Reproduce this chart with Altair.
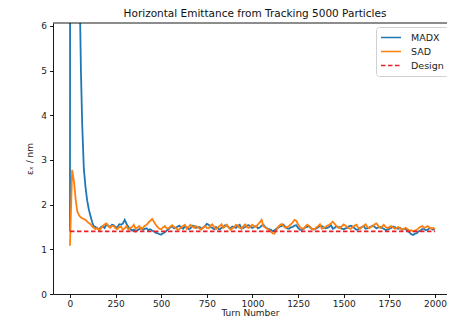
import altair as alt
import pandas as pd

# ---------------- data ----------------
madx_early_turns = [0, 5, 20, 35, 45, 55, 60, 67, 76, 85, 94, 104, 113, 122, 130]
madx_early_vals = [1.40, 40.0, 25.0, 14.0, 9.5, 6.3, 5.0, 3.8, 2.8, 2.4, 2.1, 1.88, 1.74, 1.60, 1.52]
madx_late_vals = [
    1.50, 1.47, 1.45, 1.50, 1.52, 1.48, 1.56, 1.53, 1.50, 1.55,
    1.54, 1.49, 1.50, 1.56, 1.55, 1.58, 1.66, 1.57, 1.50, 1.46,
    1.42, 1.44, 1.40, 1.43, 1.45, 1.48, 1.44, 1.46, 1.47, 1.43,
    1.45, 1.42, 1.40, 1.37, 1.36, 1.34, 1.33, 1.36, 1.38, 1.42,
    1.45, 1.49, 1.52, 1.47, 1.48, 1.51, 1.53, 1.49, 1.46, 1.51,
    1.50, 1.45, 1.47, 1.53, 1.52, 1.48, 1.49, 1.50, 1.46, 1.49,
    1.52, 1.57, 1.55, 1.50, 1.48, 1.45, 1.50, 1.47, 1.44, 1.48,
    1.50, 1.54, 1.53, 1.49, 1.47, 1.51, 1.50, 1.48, 1.52, 1.55,
    1.46, 1.48, 1.50, 1.53, 1.54, 1.50, 1.48, 1.51, 1.52, 1.47,
    1.49, 1.53, 1.55, 1.50, 1.47, 1.45, 1.44, 1.41, 1.42, 1.46,
    1.48, 1.51, 1.52, 1.55, 1.50, 1.47, 1.46, 1.49, 1.50, 1.53,
    1.54, 1.48, 1.44, 1.43, 1.46, 1.49, 1.50, 1.52, 1.47, 1.45,
    1.45, 1.47, 1.49, 1.53, 1.52, 1.49, 1.47, 1.48, 1.50, 1.54,
    1.46, 1.48, 1.52, 1.49, 1.50, 1.46, 1.45, 1.47, 1.48, 1.52,
    1.53, 1.50, 1.47, 1.44, 1.45, 1.48, 1.50, 1.52, 1.46, 1.47,
    1.49, 1.51, 1.53, 1.50, 1.47, 1.49, 1.50, 1.48, 1.46, 1.43,
    1.44, 1.46, 1.48, 1.51, 1.50, 1.47, 1.46, 1.48, 1.44, 1.46,
    1.45, 1.41, 1.38, 1.34, 1.32, 1.35, 1.36, 1.40, 1.42, 1.45,
    1.46, 1.43, 1.44, 1.47, 1.47, 1.44, 1.45,
]

sad_early_turns = [0, 12, 22, 31, 40, 50, 58, 70, 85, 100, 113, 125]
sad_early_vals = [1.08, 2.78, 2.52, 2.12, 1.85, 1.76, 1.72, 1.69, 1.66, 1.60, 1.56, 1.50]
sad_late_vals = [
    1.45, 1.48, 1.42, 1.47, 1.52, 1.56, 1.58, 1.52, 1.48, 1.53,
    1.52, 1.47, 1.45, 1.50, 1.50, 1.44, 1.47, 1.52, 1.44, 1.48,
    1.50, 1.55, 1.46, 1.49, 1.52, 1.45, 1.48, 1.53, 1.55, 1.60,
    1.64, 1.68, 1.62, 1.55, 1.50, 1.46, 1.45, 1.49, 1.52, 1.47,
    1.47, 1.51, 1.54, 1.50, 1.48, 1.44, 1.45, 1.50, 1.52, 1.55,
    1.46, 1.50, 1.55, 1.51, 1.48, 1.52, 1.50, 1.46, 1.44, 1.49,
    1.52, 1.48, 1.47, 1.53, 1.56, 1.50, 1.45, 1.49, 1.52, 1.56,
    1.48, 1.51, 1.55, 1.49, 1.44, 1.47, 1.50, 1.55, 1.53, 1.48,
    1.46, 1.52, 1.56, 1.50, 1.48, 1.52, 1.55, 1.51, 1.50, 1.56,
    1.60, 1.66, 1.52, 1.49, 1.46, 1.43, 1.40, 1.36, 1.35, 1.42,
    1.50, 1.54, 1.57, 1.52, 1.48, 1.50, 1.52, 1.56, 1.60, 1.66,
    1.64, 1.56, 1.50, 1.47, 1.46, 1.51, 1.55, 1.52, 1.48, 1.45,
    1.45, 1.49, 1.52, 1.56, 1.46, 1.48, 1.50, 1.53, 1.55, 1.58,
    1.62, 1.57, 1.52, 1.49, 1.47, 1.52, 1.56, 1.53, 1.50, 1.47,
    1.46, 1.50, 1.53, 1.55, 1.48, 1.46, 1.50, 1.53, 1.56, 1.50,
    1.47, 1.50, 1.52, 1.56, 1.58, 1.52, 1.48, 1.51, 1.55, 1.50,
    1.47, 1.50, 1.52, 1.49, 1.46, 1.48, 1.50, 1.47, 1.44, 1.46,
    1.48, 1.45, 1.42, 1.43, 1.40, 1.42, 1.44, 1.47, 1.50, 1.52,
    1.48, 1.50, 1.52, 1.49, 1.46, 1.48, 1.45,
]
late_turns = list(range(140, 2001, 10))

design_turns = [0, 2000]
design_vals = [1.4, 1.4]

series_names = ["MADX", "SAD", "Design"]
series_colors = ["#1f77b4", "#ff7f0e", "#e8202a"]
series_dashes = [[1, 0], [1, 0], [4.5, 2.5]]

x_ticks = [0, 250, 500, 750, 1000, 1250, 1500, 1750, 2000]
y_ticks = [0, 1, 2, 3, 4, 5, 6]

madx_df = pd.DataFrame({"turn": madx_early_turns + late_turns,
                        "eps": madx_early_vals + madx_late_vals, "series": "MADX"})
sad_df = pd.DataFrame({"turn": sad_early_turns + late_turns,
                       "eps": sad_early_vals + sad_late_vals, "series": "SAD"})
design_df = pd.DataFrame({"turn": design_turns, "eps": design_vals, "series": "Design"})

W, H = 394, 271
FONT = "DejaVu Sans"

x_enc = alt.X("turn:Q", scale=alt.Scale(domain=[-93, 2066], nice=False, zero=False),
              axis=alt.Axis(values=x_ticks, format="d", title="Turn Number", grid=False,
                            titlePadding=0, labelPadding=1.5))
y_enc = alt.Y("eps:Q", scale=alt.Scale(domain=[0, 6.067], nice=False),
              axis=alt.Axis(values=y_ticks, title="εₓ / nm", grid=False,
                            titlePadding=6, labelPadding=3))
color_enc = alt.Color("series:N",
                      scale=alt.Scale(domain=series_names, range=series_colors),
                      legend=alt.Legend(title=None, orient="none", legendX=323, legendY=4,
                                        symbolType="stroke", symbolSize=400,
                                        symbolStrokeWidth=1.6, clipHeight=13,
                                        labelFontSize=9.5, labelFont=FONT, labelColor="#222",
                                        labelOffset=9, rowPadding=1, padding=4,
                                        fillColor="white", strokeColor="#d0d0d0",
                                        cornerRadius=3))
dash_enc = alt.StrokeDash("series:N",
                          scale=alt.Scale(domain=series_names, range=series_dashes),
                          legend=alt.Legend(title=None, orient="none", legendX=323, legendY=4))


def line_layer(df):
    return alt.Chart(df).mark_line(strokeWidth=1.8, clip=True).encode(
        x=x_enc, y=y_enc, color=color_enc, strokeDash=dash_enc
    )


top_spine = alt.Chart(pd.DataFrame({"a": [0]})).mark_rule(color="black", strokeWidth=0.9).encode(
    x=alt.value(0), x2=alt.value(W), y=alt.value(0)
)

chart = alt.layer(
    line_layer(madx_df), line_layer(sad_df), line_layer(design_df), top_spine
).properties(
    width=W, height=H,
    title=alt.TitleParams("Horizontal Emittance from Tracking 5000 Particles",
                          font=FONT, fontSize=10.5, fontWeight="normal", color="#111",
                          baseline="alphabetic", offset=0, dy=5.5, dx=5, anchor="middle"),
    autosize=alt.AutoSizeParams(type="none"),
    padding={"left": 45, "top": 15, "right": 0, "bottom": 24},
).configure_view(stroke=None).configure_axis(
    domainColor="black", domainWidth=0.9, tickColor="black", tickWidth=0.9, tickSize=3.5,
    labelFont=FONT, labelFontSize=9, labelColor="#222",
    titleFont=FONT, titleFontSize=9, titleFontWeight="normal", titleColor="#222",
)

chart.save("out.html", embed_options={"renderer": "svg", "actions": False})
